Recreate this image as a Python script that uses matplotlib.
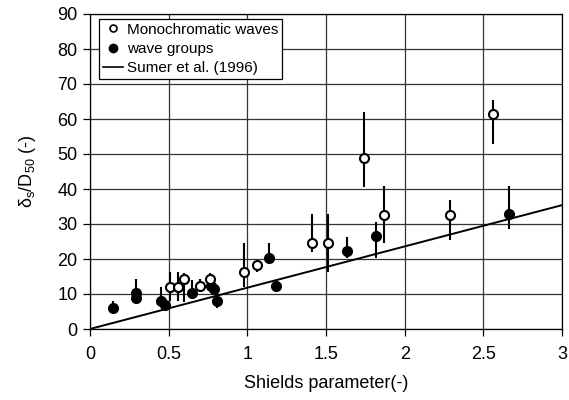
import matplotlib
matplotlib.use("Agg")
import matplotlib.pyplot as plt
import numpy as np
from matplotlib.lines import Line2D

plt.rcParams['font.family'] = ['Liberation Sans', 'DejaVu Sans']
plt.rcParams['mathtext.fontset'] = 'custom'
plt.rcParams['mathtext.rm'] = 'Liberation Sans'
plt.rcParams['mathtext.it'] = 'Liberation Sans:italic'

# Monochromatic waves (open circles)
mono_x = [0.51, 0.56, 0.60, 0.70, 0.76, 0.98, 1.06, 1.41, 1.51, 1.74, 1.87, 2.29, 2.56]
mono_y = [12.0, 12.0, 14.3, 12.3, 14.3, 16.3, 18.3, 24.5, 24.5, 49.0, 32.6, 32.6, 61.4]
mono_lo = [8.0, 8.0, 7.7, 10.6, 13.0, 12.0, 16.3, 22.0, 16.3, 40.6, 24.5, 25.4, 53.0]
mono_hi = [16.3, 16.3, 16.0, 14.3, 16.0, 24.6, 19.7, 32.8, 32.8, 62.0, 40.8, 37.0, 65.4]

# Wave groups (filled circles)
grp_x = [0.146, 0.29, 0.29, 0.45, 0.475, 0.65, 0.77, 0.79, 0.81, 1.14, 1.18, 1.63, 1.82, 2.66]
grp_y = [6.0, 10.3, 8.9, 8.0, 7.0, 10.3, 12.3, 11.4, 8.0, 20.3, 12.3, 22.3, 26.6, 32.8]
grp_lo = [5.0, 9.0, 8.0, 7.0, 6.5, 9.0, 11.0, 10.5, 6.0, 18.6, 10.5, 20.3, 20.3, 28.6]
grp_hi = [8.0, 14.3, 10.0, 12.0, 8.3, 14.0, 13.0, 12.0, 12.0, 24.5, 14.0, 26.3, 30.6, 40.9]

# Sumer et al. (1996)
sumer_x = [0.0, 3.0]
sumer_slope = 11.8

xticks = [0, 0.5, 1, 1.5, 2, 2.5, 3]
xticklabels = ['0', '0.5', '1', '1.5', '2', '2.5', '3']
yticks = list(range(0, 91, 10))

fig = plt.figure(figsize=(5.69, 4.0), dpi=100)
ax = fig.add_axes([0.158, 0.1775, 0.830, 0.7875])

ax.set_xlim(0, 3)
ax.set_ylim(0, 90)
ax.set_xticks(xticks)
ax.set_xticklabels(xticklabels)
ax.set_yticks(yticks)
ax.grid(True, color='#333333', linewidth=0.9)
ax.set_axisbelow(True)
ax.tick_params(direction='out', length=5, width=0.9, labelsize=13, color='black')
ax.tick_params(axis='x', pad=7)
ax.tick_params(axis='y', pad=4)
for s in ax.spines.values():
    s.set_color('black')
    s.set_linewidth(0.9)

mono_err = [np.array(mono_y) - np.array(mono_lo), np.array(mono_hi) - np.array(mono_y)]
grp_err = [np.array(grp_y) - np.array(grp_lo), np.array(grp_hi) - np.array(grp_y)]

sx = np.array(sumer_x)
ax.plot(sx, sumer_slope * sx, color='black', linewidth=1.4, zorder=3)
ax.errorbar(grp_x, grp_y, yerr=grp_err, fmt='o', color='black', ecolor='black',
            elinewidth=1.5, capsize=0, markersize=7, markerfacecolor='black',
            markeredgecolor='black', zorder=4)
ax.errorbar(mono_x, mono_y, yerr=mono_err, fmt='o', color='black', ecolor='black',
            elinewidth=1.5, capsize=0, markersize=6.5, markerfacecolor='white',
            markeredgecolor='black', markeredgewidth=1.5, zorder=5)

handles = [Line2D([], [], marker='o', linestyle='none', markerfacecolor='white', markeredgecolor='black', markersize=5, markeredgewidth=1.2),
           Line2D([], [], marker='o', linestyle='none', markerfacecolor='black', markeredgecolor='black', markersize=6),
           Line2D([], [], color='black', linewidth=1.2)]
labels = ['Monochromatic waves', 'wave groups', 'Sumer et al. (1996)']
leg = ax.legend(handles, labels, loc='upper left', fontsize=11, frameon=True, fancybox=False,
                edgecolor='black', framealpha=1, handlelength=1.3, handletextpad=0.3,
                borderpad=0.25, labelspacing=0.35, borderaxespad=0,
                bbox_to_anchor=(0.019, 0.985))
leg.get_frame().set_linewidth(0.9)

ax.set_xlabel('Shields parameter(-)', fontsize=13, labelpad=9)
ax.set_ylabel(r'δ$_\mathrm{s}$/D$_{50}$ (-)', fontsize=13, labelpad=14)

fig.savefig('out.png', dpi=100)
